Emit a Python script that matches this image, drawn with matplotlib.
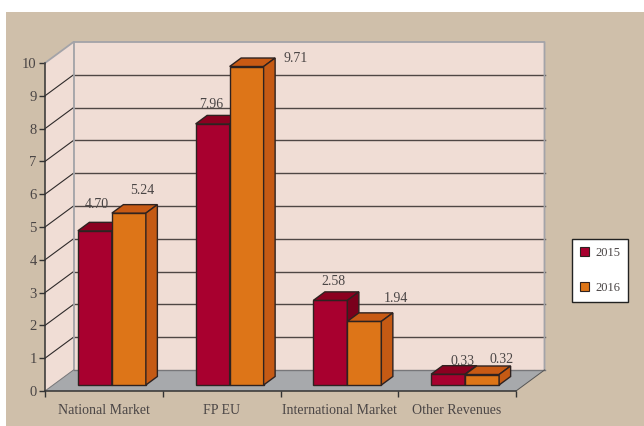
import matplotlib.pyplot as plt
from matplotlib.patches import Polygon, Rectangle

# Values
categories = ["National Market", "FP EU", "International Market", "Other Revenues"]
values_2015 = [4.70, 7.96, 2.58, 0.33]
values_2016 = [5.24, 9.71, 1.94, 0.32]
y_ticks = [0, 1, 2, 3, 4, 5, 6, 7, 8, 9, 10]

# Label offsets from the top of each bar front, in pixels
offsets_2015 = [(2, 26), (-1, 19), (3, 19), (14, 13)]
offsets_2016 = [(13, 23), (49, 8), (32, 23), (19, 15)]

plt.rcParams['font.family'] = 'Liberation Serif'
text_color = '#4a4545'
tan = '#cfbfaa'
wall = '#f0ddd5'
floor = '#a7a9ac'
edge = '#2e2220'
colors_2015 = ('#a8002f', '#8b0020', '#7a001c')
colors_2016 = ('#dd7518', '#c85a14', '#c55a14')

fig = plt.figure(figsize=(6.44, 4.26), dpi=100, facecolor='white')
fig.add_artist(Rectangle((6 / 644, 0), 638 / 644, 414 / 426, transform=fig.transFigure, facecolor=tan, edgecolor='none', zorder=-5))

# Axes covers the front plane of the 3D box
ax = fig.add_axes([45 / 644, 35 / 426, 471 / 644, 328 / 426])
ax.set_xlim(0, 4)
ax.set_ylim(0, 10)
ax.patch.set_alpha(0)

# Depth of the box, bars and bar shift in data units
depth_x, depth_y = 28.5 / 117.75, 21 / 32.8
bar_dx, bar_dy = 11.5 / 117.75, 8.5 / 32.8
shift_x, shift_y = 8 / 117.75, 6 / 32.8
bar_width = 34 / 117.75


def add_poly(points, color, z, ec='none', lw=0):
    ax.add_patch(Polygon(points, closed=True, facecolor=color, edgecolor=ec, linewidth=lw, zorder=z, clip_on=False, joinstyle='miter'))


# Walls and floor
add_poly([(depth_x, depth_y), (4 + depth_x, depth_y), (4 + depth_x, 10 + depth_y), (depth_x, 10 + depth_y)], wall, 1)
add_poly([(0, 0), (depth_x, depth_y), (depth_x, 10 + depth_y), (0, 10)], wall, 1)
add_poly([(0, 0), (4, 0), (4 + depth_x, depth_y), (depth_x, depth_y)], floor, 1)

# Grid lines on back wall and side wall
for v in y_ticks[1:-1]:
    ax.plot([depth_x, 4 + depth_x], [v + depth_y, v + depth_y], color='#4f4644', lw=1.0, zorder=2, clip_on=False)
    ax.plot([0, depth_x], [v, v + depth_y], color='#2e2a2a', lw=0.8, zorder=2, clip_on=False)

# Wall outline
ax.plot([0, depth_x, 4 + depth_x, 4 + depth_x], [10, 10 + depth_y, 10 + depth_y, depth_y], color='#a3a3a8', lw=1.3, zorder=2, clip_on=False)
ax.plot([depth_x, depth_x], [depth_y, 10 + depth_y], color='#a3a3a8', lw=1.3, zorder=2, clip_on=False)
ax.plot([depth_x, 4 + depth_x], [depth_y, depth_y], color='#77777a', lw=1.0, zorder=2, clip_on=False)
ax.plot([4, 4 + depth_x], [0, depth_y], color='#555555', lw=0.7, zorder=2, clip_on=False)
ax.plot([0, depth_x], [0, depth_y], color='#77777a', lw=0.7, zorder=2, clip_on=False)


def draw_bar(x0, value, colors, z):
    x1 = x0 + bar_width
    y0 = shift_y
    y1 = shift_y + value
    ax.bar(x0, value, width=bar_width, bottom=y0, align='edge', color=colors[0], edgecolor=edge, linewidth=1.0, zorder=z)
    add_poly([(x0, y1), (x1, y1), (x1 + bar_dx, y1 + bar_dy), (x0 + bar_dx, y1 + bar_dy)], colors[1], z, edge, 1.0)
    add_poly([(x1, y0), (x1 + bar_dx, y0 + bar_dy), (x1 + bar_dx, y1 + bar_dy), (x1, y1)], colors[2], z, edge, 1.0)


for i in range(len(categories)):
    center = i + 0.5 + shift_x
    draw_bar(center - bar_width, values_2015[i], colors_2015, 3 + i * 2)
    draw_bar(center, values_2016[i], colors_2016, 4 + i * 2)
    ax.annotate(f'{values_2015[i]:.2f}', (center - bar_width / 2, values_2015[i] + shift_y), xytext=(offsets_2015[i][0] * 0.72, offsets_2015[i][1] * 0.72),
                textcoords='offset points', ha='center', va='center', fontsize=10, color=text_color, zorder=20, annotation_clip=False)
    ax.annotate(f'{values_2016[i]:.2f}', (center + bar_width / 2, values_2016[i] + shift_y), xytext=(offsets_2016[i][0] * 0.72, offsets_2016[i][1] * 0.72),
                textcoords='offset points', ha='center', va='center', fontsize=10, color=text_color, zorder=20, annotation_clip=False)

# Axes, ticks and labels
for side in ['top', 'right']:
    ax.spines[side].set_visible(False)
for side in ['left', 'bottom']:
    ax.spines[side].set_color('#333333')
    ax.spines[side].set_linewidth(1.1)
    ax.spines[side].set_zorder(15)

ax.set_yticks(y_ticks)
ax.set_xticks([0, 1, 2, 3, 4])
ax.set_xticklabels([])
ax.set_xticks([0.5, 1.5, 2.5, 3.5], minor=True)
ax.set_xticklabels(categories, minor=True)
ax.tick_params(axis='x', which='major', length=4, width=1, color='#333333')
ax.tick_params(axis='x', which='minor', length=0, pad=9, labelsize=10, labelcolor=text_color)
ax.tick_params(axis='y', length=4, width=1, color='#333333', pad=2, labelsize=10.5, labelcolor=text_color)

# Legend
handles = [Rectangle((0, 0), 1, 1, facecolor=colors_2015[0], edgecolor=edge, linewidth=0.8),
           Rectangle((0, 0), 1, 1, facecolor=colors_2016[0], edgecolor=edge, linewidth=0.8)]
leg = fig.legend(handles, ['2015', '2016'], loc='center', bbox_to_anchor=(600 / 644, (426 - 270.5) / 426), fontsize=9,
                 fancybox=False, framealpha=1, facecolor='white', edgecolor='#222222', labelcolor=text_color,
                 handlelength=0.75, handleheight=0.75, handletextpad=0.45, labelspacing=1.85, borderpad=0.65, borderaxespad=0)
leg.get_frame().set_linewidth(1.0)

fig.savefig('out.png', dpi=100, facecolor=fig.get_facecolor())
